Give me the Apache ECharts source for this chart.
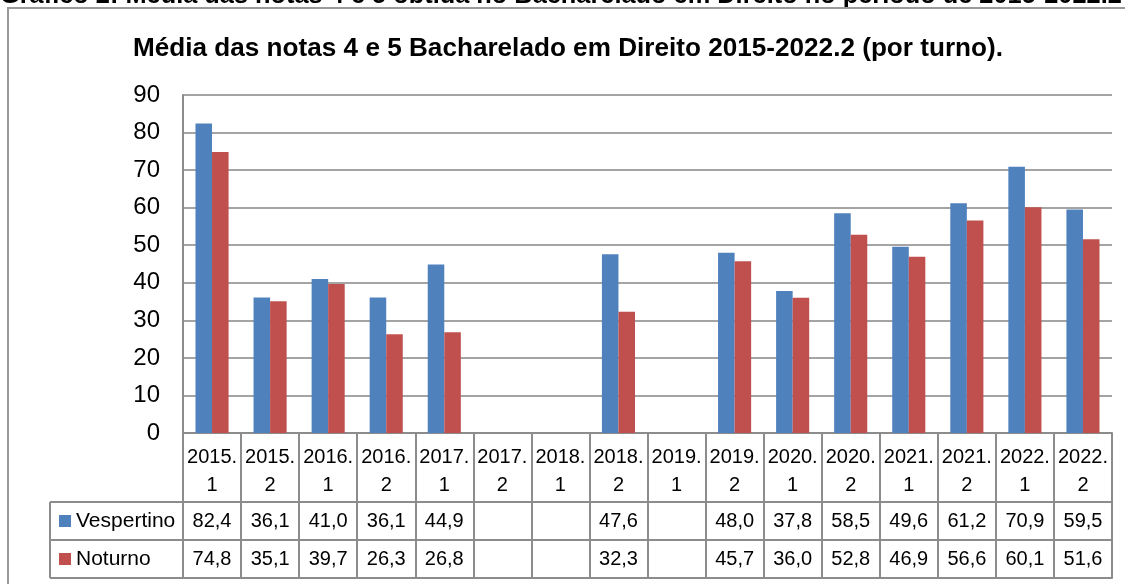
<!DOCTYPE html>
<html>
<head>
<meta charset="utf-8">
<script src="https://cdn.jsdelivr.net/npm/echarts@6/dist/echarts.min.js"></script>
<style>
html,body{margin:0;padding:0;background:#fff;}
#chart{width:1125px;height:584px;}
</style>
</head>
<body>
<div id="chart"></div>
<script>
const categories = ['2015.1','2015.2','2016.1','2016.2','2017.1','2017.2','2018.1','2018.2','2019.1','2019.2','2020.1','2020.2','2021.1','2021.2','2022.1','2022.2'];
const vespertino = [82.4, 36.1, 41.0, 36.1, 44.9, null, null, 47.6, null, 48.0, 37.8, 58.5, 49.6, 61.2, 70.9, 59.5];
const noturno    = [74.8, 35.1, 39.7, 26.3, 26.8, null, null, 32.3, null, 45.7, 36.0, 52.8, 46.9, 56.6, 60.1, 51.6];
const seriesNames = ['Vespertino', 'Noturno'];
const yMin = 0, yMax = 90, yInterval = 10;
const titleText = 'Média das notas 4 e 5 Bacharelado em Direito 2015-2022.2 (por turno).';
const captionText = 'Gráfico 2: Média das notas 4 e 5 obtida no Bacharelado em Direito no período de 2015-2022.2';

const W = 1125, H = 584;
const gridLeft = 183, gridRight = 13, gridTop = 95, gridBottom = 151;
const axisY = H - gridBottom;          // 433
const headerH = 69, rowH = 38;
const tableLeft = 50;
const lineColor = '#8c8c8c';
const font = "'Liberation Sans', Arial, sans-serif";
const fmt = v => (v === null || v === undefined) ? '' : v.toFixed(1).replace('.', ',');

// text sizing helpers
const cv = document.createElement('canvas').getContext('2d');
let capSize = 20;
cv.font = 'bold ' + capSize + 'px ' + font;
capSize = capSize * 1122 / cv.measureText(captionText).width;
const titleSize = 26;
cv.font = 'bold ' + titleSize + 'px ' + font;
const titleScale = 870 / cv.measureText(titleText).width;

const chart = echarts.init(document.getElementById('chart'), null, {renderer: 'canvas'});
const xTable = (offset, labels, showLabel) => ({
  type: 'category', data: categories, position: 'bottom', offset: offset,
  axisLine: {show: true, lineStyle: {color: lineColor, width: 2}},
  axisTick: {show: false}, splitLine: {show: false},
  axisLabel: {show: showLabel, interval: 0, margin: 0, lineHeight: rowH, fontSize: 20,
    fontFamily: font, color: '#000', formatter: (v, i) => labels ? fmt(labels[i]) : ''}
});
const legendOf = (name, rowIdx) => ({
  data: [name], left: tableLeft + 9, top: axisY + headerH + rowIdx * rowH + rowH / 2 - 12,
  padding: 0, icon: 'rect', itemWidth: 12, itemHeight: 12, selectedMode: false,
  textStyle: {fontSize: 21, lineHeight: 24, fontFamily: font, color: '#000'}
});

chart.setOption({
  animation: false,
  backgroundColor: '#fff',
  grid: {left: gridLeft, right: gridRight, top: gridTop, bottom: gridBottom},
  legend: [legendOf(seriesNames[0], 0), legendOf(seriesNames[1], 1)],
  xAxis: [
    {type: 'category', data: categories, position: 'bottom',
     axisLine: {show: true, lineStyle: {color: lineColor, width: 2}},
     axisTick: {show: true, interval: 0, length: headerH + 2 * rowH, lineStyle: {color: lineColor, width: 2}},
     splitLine: {show: false},
     axisLabel: {interval: 0, margin: 10, lineHeight: 28, fontSize: 20, fontFamily: font, color: '#000',
       formatter: v => v.replace('.', '.\n')}},
    xTable(headerH, vespertino, true),
    xTable(headerH + rowH, noturno, true),
    xTable(headerH + 2 * rowH, null, false)
  ],
  yAxis: {
    type: 'value', min: yMin, max: yMax, interval: yInterval,
    axisLine: {show: true, lineStyle: {color: lineColor, width: 2}},
    axisTick: {show: false},
    splitLine: {show: true, lineStyle: {color: '#868686', width: 1.5}},
    axisLabel: {fontSize: 24, margin: 23, fontFamily: font, color: '#000'}
  },
  series: [
    {name: seriesNames[0], type: 'bar', data: vespertino, barGap: '0%', barCategoryGap: '43%',
     itemStyle: {color: '#4F81BD'}},
    {name: seriesNames[1], type: 'bar', data: noturno, barGap: '0%', barCategoryGap: '43%',
     itemStyle: {color: '#C0504D'}}
  ],
  graphic: [
    {type: 'text', left: 0, top: 9 - capSize * 1.0, silent: true,
     style: {text: captionText, font: 'bold ' + capSize + 'px ' + font, fill: '#000'}},
    {type: 'rect', silent: true, shape: {x: 8, y: 8, width: 1300, height: 800},
     style: {fill: null, stroke: '#9a9a9a', lineWidth: 2}},
    {type: 'text', silent: true, x: 568, y: 49, scaleX: titleScale,
     style: {text: titleText, font: 'bold ' + titleSize + 'px ' + font, fill: '#000',
       align: 'center', verticalAlign: 'middle'}},
    {type: 'line', silent: true, shape: {x1: tableLeft, y1: axisY + headerH, x2: gridLeft, y2: axisY + headerH}, style: {stroke: lineColor, lineWidth: 2}},
    {type: 'line', silent: true, shape: {x1: tableLeft, y1: axisY + headerH + rowH, x2: gridLeft, y2: axisY + headerH + rowH}, style: {stroke: lineColor, lineWidth: 2}},
    {type: 'line', silent: true, shape: {x1: tableLeft, y1: axisY + headerH + 2 * rowH, x2: gridLeft, y2: axisY + headerH + 2 * rowH}, style: {stroke: lineColor, lineWidth: 2}},
    {type: 'line', silent: true, shape: {x1: tableLeft, y1: axisY + headerH, x2: tableLeft, y2: axisY + headerH + 2 * rowH}, style: {stroke: lineColor, lineWidth: 2}}
  ]
});
</script>
</body>
</html>
